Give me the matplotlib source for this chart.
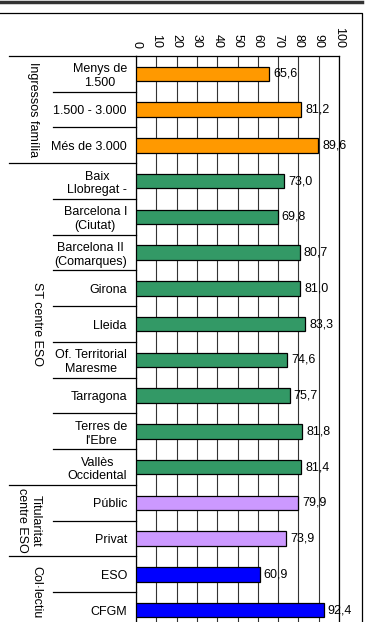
import matplotlib
matplotlib.use("Agg")
import matplotlib.pyplot as plt
from matplotlib.lines import Line2D
from matplotlib.transforms import blended_transform_factory

plt.rcParams['font.family'] = ['Liberation Sans', 'DejaVu Sans']
plt.rcParams['font.size'] = 9

labels = ["Menys de\n1.500", "1.500 - 3.000", "Més de 3.000",
          "Baix\nLlobregat -", "Barcelona I\n(Ciutat)", "Barcelona II\n(Comarques)",
          "Girona", "Lleida", "Of. Territorial\nMaresme", "Tarragona",
          "Terres de\nl'Ebre", "Vallès\nOccidental",
          "Públic", "Privat",
          "ESO", "CFGM"]
values = [65.6, 81.2, 89.6,
          73.0, 69.8, 80.7, 81.0, 83.3, 74.6, 75.7, 81.8, 81.4,
          79.9, 73.9,
          60.9, 92.4]
group_names = ["Ingressos família", "ST centre ESO", "Titularitat\ncentre ESO", "Col·lectiu"]
group_sizes = [3, 9, 2, 2]
group_colors = ["#FF9900", "#339966", "#CC99FF", "#0000FF"]
group_label_x = [33, 37, 29, 36]   # pixels from left
xticks = list(range(0, 101, 10))

W, H = 369, 622
fig = plt.figure(figsize=(W / 100, H / 100), dpi=100)
fig.patch.set_facecolor("white")

top_px, row_px = 56, 35.75
left_px, right_px = 136, 339
n = len(labels)
bottom_px = top_px + n * row_px
ax = fig.add_axes([left_px / W, 1 - bottom_px / H,
                   (right_px - left_px) / W, n * row_px / H])

colors = []
for c, s in zip(group_colors, group_sizes):
    colors += [c] * s

ypos = list(range(n))
ax.barh(ypos, values, height=0.4, color=colors, edgecolor="black", linewidth=0.9, zorder=3)
for y, v in zip(ypos, values):
    ax.annotate(f"{v:.1f}".replace(".", ","), (v, y), xytext=(3, 0),
                textcoords="offset points", va="center", ha="left", fontsize=9, zorder=4)

ax.set_xlim(0, 100)
ax.set_ylim(n - 0.5, -0.5)
ax.set_xticks(xticks)
ax.xaxis.tick_top()
ax.set_xticklabels([str(t) for t in xticks], rotation=-90, va="bottom", ha="center")
ax.tick_params(axis="x", length=0, pad=6)
ax.set_yticks(ypos)
ax.set_yticklabels(labels)
for t in ax.get_yticklabels():
    t.set_multialignment("center")
ax.tick_params(axis="y", length=0, pad=6.5)
ax.grid(axis="x", color="#333333", linewidth=0.8, zorder=1)
for sp in ["left", "top", "right"]:
    ax.spines[sp].set_color("black")
    ax.spines[sp].set_linewidth(0.9)
ax.spines["bottom"].set_visible(False)

# row separators in the label area
tr = blended_transform_factory(fig.transFigure, ax.transData)
starts = set()
acc = 0
for s in group_sizes:
    starts.add(acc)
    acc += s
for i in range(n):
    x0 = 9 / W if i in starts else 53 / W
    ax.add_line(Line2D([x0, left_px / W], [i - 0.5, i - 0.5], transform=tr,
                       color="black", linewidth=0.9, clip_on=False))

# group labels
acc = 0
for name, s, gx in zip(group_names, group_sizes, group_label_x):
    ax.text(gx / W, acc - 0.5 + s / 2, name, transform=tr, rotation=-90,
            ha="center", va="center", multialignment="center", fontsize=9, clip_on=False)
    acc += s

# outer frames
fig.add_artist(Line2D([0, 362 / W], [1 - 1.5 / H, 1 - 1.5 / H], color="#333333", linewidth=2.5))
fig.add_artist(Line2D([0, 362 / W, 362 / W], [1 - 13 / H, 1 - 13 / H, 0],
                      color="black", linewidth=0.9))

fig.savefig("out.png", dpi=100)
